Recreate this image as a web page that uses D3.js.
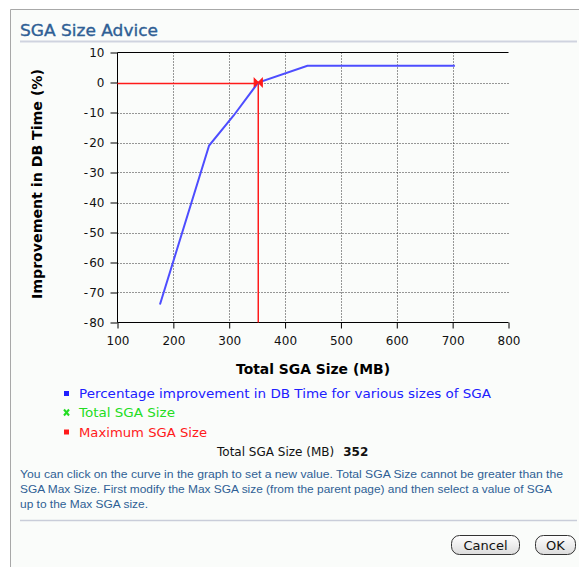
<!DOCTYPE html>
<html>
<head>
<meta charset="utf-8">
<script src="https://cdn.jsdelivr.net/npm/d3@7"></script>
<style>
  html, body { margin: 0; padding: 0; background: #ffffff; }
  svg { display: block; }
</style>
</head>
<body>
<svg id="chart" width="579" height="567"></svg>
<script>
// SGA advisor curve: total SGA size (MB) vs. improvement in DB time (%)
const sgaSizes = [176, 264, 308, 352, 440, 528, 616, 704];
const dbTimeImprovement = [-74, -21, -11, 0, 5.6, 5.6, 5.6, 5.6];
const currentSgaSize = 352;
const maxSgaSize = 352;
const xTicks = [100, 200, 300, 400, 500, 600, 700, 800];
const yTicks = [10, 0, -10, -20, -30, -40, -50, -60, -70, -80];
const legendLabels = [
  "Percentage improvement in DB Time for various sizes of SGA",
  "Total SGA Size",
  "Maximum SGA Size"
];
const helpLines = [
  "You can click on the curve in the graph to set a new value. Total SGA Size cannot be greater than the",
  "SGA Max Size. First modify the Max SGA size (from the parent page) and then select a value of SGA",
  "up to the Max SGA size."
];

const svg = d3.select("#chart");
const titleBlue = "#2f5f95";

// page panel
svg.append("rect").attr("x", 10).attr("y", 9).attr("width", 569).attr("height", 558)
  .attr("fill", "#fafcfa");
svg.append("path").attr("d", "M10.5,567V9.5H579").attr("fill", "none")
  .attr("stroke", "#a8a8a8").attr("stroke-width", 1);

svg.append("text").attr("x", 20).attr("y", 36).text("SGA Size Advice")
  .attr("font-family", "Verdana, 'DejaVu Sans', sans-serif").attr("font-size", 16)
  .attr("fill", titleBlue).attr("stroke", titleBlue).attr("stroke-width", 0.35)
  .attr("textLength", 138).attr("lengthAdjust", "spacingAndGlyphs");
svg.append("line").attr("x1", 20).attr("x2", 577).attr("y1", 41.5).attr("y2", 41.5)
  .attr("stroke", "#cfd3df").attr("stroke-width", 2);

// plot
const x = d3.scaleLinear().domain([100, 800]).range([117.5, 508.5]);
const y = d3.scaleLinear().domain([-80, 10]).range([322.5, 52.5]);
const font = "'DejaVu Sans', Verdana, sans-serif";
const g = svg.append("g");

// dotted grid
g.selectAll("line.vgrid").data(xTicks.filter(d => d > 100 && d < 800)).join("line")
  .attr("x1", d => Math.round(x(d)) + 0.5).attr("x2", d => Math.round(x(d)) + 0.5)
  .attr("y1", y(10)).attr("y2", y(-80))
  .attr("stroke", "#333").attr("stroke-dasharray", "1,2");
g.selectAll("line.hgrid").data(yTicks.filter(d => d < 10 && d > -80)).join("line")
  .attr("x1", x(100)).attr("x2", x(800))
  .attr("y1", d => Math.round(y(d)) + 0.5).attr("y2", d => Math.round(y(d)) + 0.5)
  .attr("stroke", "#333").attr("stroke-dasharray", "1,2");

// axes
const xAxis = d3.axisBottom(x).tickValues(xTicks).tickSize(6).tickPadding(8).tickFormat(d3.format("d"));
const yAxis = d3.axisLeft(y).tickValues(yTicks).tickSize(7).tickPadding(6)
  .tickFormat(d => d < 0 ? "-\u200A" + Math.abs(d) : String(d));
const gx = g.append("g").attr("transform", `translate(0,${y(-80)})`).call(xAxis);
const gy = g.append("g").attr("transform", `translate(${x(100)},0)`).call(yAxis);
[gx, gy].forEach(a => {
  a.select(".domain").attr("stroke", "#000");
  a.selectAll(".tick line").attr("stroke", "#000");
  a.selectAll(".tick text").attr("font-family", font).attr("font-size", 12).attr("fill", "#111");
});
gx.select(".domain").attr("d", `M${x(100)},0H${x(800)}`);
gy.select(".domain").attr("d", `M0,${y(10)}V${y(-80)}`);
// top frame line
g.append("line").attr("x1", x(100)).attr("x2", x(800)).attr("y1", y(10)).attr("y2", y(10))
  .attr("stroke", "#000");

// max SGA guide lines
const maxY = dbTimeImprovement[sgaSizes.indexOf(maxSgaSize)];
g.append("line").attr("x1", x(100)).attr("x2", x(maxSgaSize))
  .attr("y1", Math.round(y(maxY)) + 0.5).attr("y2", Math.round(y(maxY)) + 0.5)
  .attr("stroke", "#ff1a1a").attr("stroke-width", 1.5);
g.append("line").attr("x1", x(maxSgaSize)).attr("x2", x(maxSgaSize))
  .attr("y1", y(maxY)).attr("y2", y(-80))
  .attr("stroke", "#ff1a1a").attr("stroke-width", 1.5);

// advice curve
const line = d3.line().x((d, i) => x(sgaSizes[i])).y(d => y(d));
g.append("path").datum(dbTimeImprovement).attr("d", line)
  .attr("fill", "none").attr("stroke", "#4d4dff").attr("stroke-width", 2);

// current size marker (bow-tie)
const cx = x(currentSgaSize), cy = y(dbTimeImprovement[sgaSizes.indexOf(currentSgaSize)]);
g.append("path").attr("transform", `translate(${cx},${cy})`)
  .attr("d", "M-4,-4L-4,4L4,-4L4,4Z").attr("fill", "#ff1a1a").attr("stroke", "#ff1a1a").attr("stroke-width", 1.2);

// axis titles
svg.append("text").attr("x", 313).attr("y", 374).attr("text-anchor", "middle")
  .attr("font-family", font).attr("font-weight", "bold").attr("font-size", 13.5)
  .attr("textLength", 154).attr("lengthAdjust", "spacingAndGlyphs")
  .text("Total SGA Size (MB)");
svg.append("text").attr("transform", "translate(42,184) rotate(-90)").attr("text-anchor", "middle")
  .attr("font-family", font).attr("font-weight", "bold").attr("font-size", 14)
  .attr("textLength", 230).attr("lengthAdjust", "spacingAndGlyphs")
  .text("Improvement in DB Time (%)");

// legend
const legendColors = ["#2020ff", "#22dd22", "#ff1a1a"];
const legendWidths = [412, 96, 128];
const legendY = [393.5, 412.5, 432];
const lg = svg.append("g");
legendLabels.forEach((t, i) => {
  if (i === 1) {
    lg.append("path").attr("transform", `translate(66.5,${legendY[i]})`)
      .attr("d", "M-2.5,-3L2.5,3M2.5,-3L-2.5,3").attr("stroke", legendColors[i]).attr("stroke-width", 2);
  } else {
    lg.append("rect").attr("x", 64).attr("y", legendY[i] - 2.5).attr("width", 5).attr("height", 5)
      .attr("fill", legendColors[i]);
  }
  lg.append("text").attr("x", 79).attr("y", legendY[i] + 4.5).text(t)
    .attr("font-family", font).attr("font-size", 13).attr("fill", legendColors[i])
    .attr("textLength", legendWidths[i]).attr("lengthAdjust", "spacingAndGlyphs");
});

// current value readout
const readout = svg.append("text").attr("x", 217).attr("y", 455.5)
  .attr("font-family", font).attr("font-size", 12).attr("fill", "#111");
readout.append("tspan").text("Total SGA Size (MB)");
readout.append("tspan").attr("dx", 9).attr("font-weight", "bold").text(currentSgaSize);

// help text
const helpWidths = [543, 532, 128];
helpLines.forEach((t, i) => {
  svg.append("text").attr("x", 20).attr("y", 478 + i * 14.8).text(t)
    .attr("font-family", "'Liberation Sans', Arial, sans-serif").attr("font-size", 11)
    .attr("fill", titleBlue).attr("textLength", helpWidths[i]).attr("lengthAdjust", "spacingAndGlyphs");
});
svg.append("line").attr("x1", 20).attr("x2", 577).attr("y1", 520.5).attr("y2", 520.5)
  .attr("stroke", "#c9cdd9").attr("stroke-width", 1.5);

// buttons
const grad = svg.append("defs").append("linearGradient").attr("id", "btn")
  .attr("x1", 0).attr("y1", 0).attr("x2", 0).attr("y2", 1);
grad.append("stop").attr("offset", 0).attr("stop-color", "#ffffff");
grad.append("stop").attr("offset", 1).attr("stop-color", "#dcdcdc");
const buttons = [{ label: "Cancel", x: 451, w: 68 }, { label: "OK", x: 535, w: 40 }];
buttons.forEach(b => {
  svg.append("rect").attr("x", b.x + 0.5).attr("y", 535.5).attr("width", b.w).attr("height", 19)
    .attr("rx", 8).attr("fill", "url(#btn)").attr("stroke", "#333").attr("stroke-width", 1);
  svg.append("text").attr("x", b.x + b.w / 2 + 0.5).attr("y", 550).attr("text-anchor", "middle")
    .attr("font-family", font).attr("font-size", 13).attr("fill", "#111").text(b.label);
});
</script>
</body>
</html>
